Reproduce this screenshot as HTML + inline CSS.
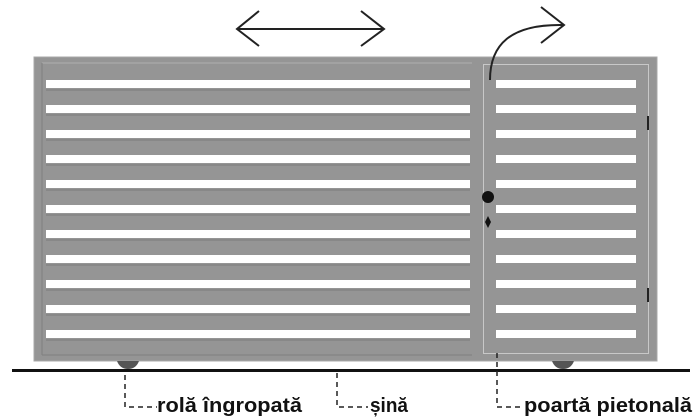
<!DOCTYPE html>
<html><head><meta charset="utf-8"><style>html,body{margin:0;padding:0;background:#fff}svg{display:block}</style></head>
<body>
<svg width="700" height="420" viewBox="0 0 700 420" xmlns="http://www.w3.org/2000/svg">
<rect x="0" y="0" width="700" height="420" fill="#fff"/>
<rect x="34" y="57" width="623" height="304" fill="#959595"/>
<rect x="34" y="57" width="623" height="304" fill="none" stroke="#a8a8a8" stroke-width="1"/>
<line x1="42" y1="63" x2="472" y2="63" stroke="#b0b0b0" stroke-width="1"/>
<line x1="42" y1="63" x2="42" y2="355" stroke="#808080" stroke-width="1"/>
<line x1="42" y1="355" x2="472" y2="355" stroke="#808080" stroke-width="1"/>
<rect x="483.5" y="64.5" width="165" height="289" fill="none" stroke="#c8c8c8" stroke-width="1"/>
<g fill="#fff">
<rect x="46" y="80" width="424" height="8"/><rect x="496" y="80" width="140" height="8"/>
<rect x="46" y="105" width="424" height="8"/><rect x="496" y="105" width="140" height="8"/>
<rect x="46" y="130" width="424" height="8"/><rect x="496" y="130" width="140" height="8"/>
<rect x="46" y="155" width="424" height="8"/><rect x="496" y="155" width="140" height="8"/>
<rect x="46" y="180" width="424" height="8"/><rect x="496" y="180" width="140" height="8"/>
<rect x="46" y="205" width="424" height="8"/><rect x="496" y="205" width="140" height="8"/>
<rect x="46" y="230" width="424" height="8"/><rect x="496" y="230" width="140" height="8"/>
<rect x="46" y="255" width="424" height="8"/><rect x="496" y="255" width="140" height="8"/>
<rect x="46" y="280" width="424" height="8"/><rect x="496" y="280" width="140" height="8"/>
<rect x="46" y="305" width="424" height="8"/><rect x="496" y="305" width="140" height="8"/>
<rect x="46" y="330" width="424" height="8"/><rect x="496" y="330" width="140" height="8"/>
</g>
<g stroke="#7c7c7c" stroke-width="1">
<line x1="46" y1="90" x2="470" y2="90"/><line x1="46" y1="115" x2="470" y2="115"/><line x1="46" y1="140" x2="470" y2="140"/>
<line x1="46" y1="165" x2="470" y2="165"/><line x1="46" y1="190" x2="470" y2="190"/><line x1="46" y1="215" x2="470" y2="215"/>
<line x1="46" y1="240" x2="470" y2="240"/><line x1="46" y1="265" x2="470" y2="265"/><line x1="46" y1="290" x2="470" y2="290"/>
<line x1="46" y1="315" x2="470" y2="315"/><line x1="46" y1="340" x2="470" y2="340"/>
</g>
<circle cx="488" cy="197" r="6" fill="#111"/>
<path d="M488 216 L491 222 L488 228 L485 222 Z" fill="#111"/>
<rect x="647" y="116" width="2" height="14" fill="#222"/>
<rect x="647" y="288" width="2" height="14" fill="#222"/>
<path d="M117 361 L139 361 Q136 369 128 369 Q120 369 117 361 Z" fill="#555"/>
<path d="M552 361 L574 361 Q571 369 563 369 Q555 369 552 361 Z" fill="#555"/>
<rect x="12" y="369" width="678" height="3" fill="#111"/>
<g fill="none" stroke="#222" stroke-width="2">
<line x1="237" y1="29" x2="384" y2="29"/>
<polyline points="259,11 237,29 259,46"/>
<polyline points="361,11 384,29 361,46"/>
<path d="M490 80 C490 45 510 24 563 25"/>
<polyline points="541,7 564,25 541,43"/>
</g>
<g fill="none" stroke="#222" stroke-width="1.5" stroke-dasharray="5,4">
<polyline points="125,375 125,407 157,407"/>
<polyline points="337,373 337,407 368,407"/>
<polyline points="497,353 497,407 523,407"/>
</g>
<g font-family="Liberation Sans, sans-serif" font-weight="bold" font-size="20" fill="#111">
<text x="157" y="412" textLength="145" lengthAdjust="spacingAndGlyphs">rolă îngropată</text>
<text x="370" y="412" textLength="38" lengthAdjust="spacingAndGlyphs">șină</text>
<text x="524" y="412" textLength="168" lengthAdjust="spacingAndGlyphs">poartă pietonală</text>
</g>
</svg>
</body></html>
